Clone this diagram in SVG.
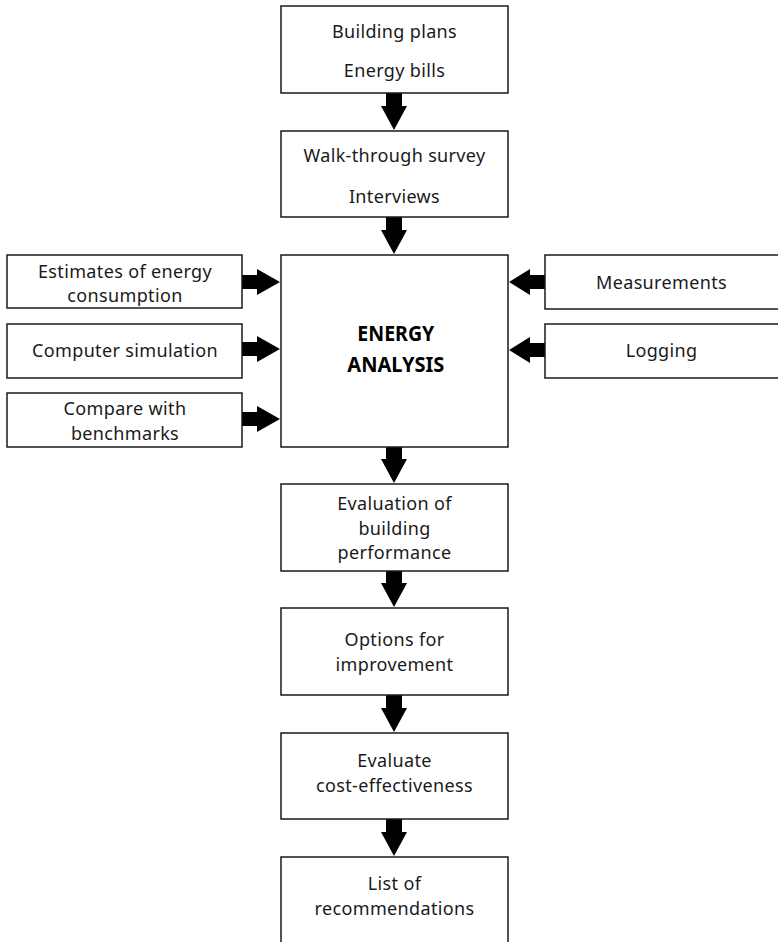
<svg xmlns="http://www.w3.org/2000/svg" width="778" height="942" viewBox="0 0 778 942">
<style>
.box{fill:#fff;stroke:#1a1a1a;stroke-width:1.5}
.t{font-family:"Noto Sans","Open Sans",sans-serif;font-size:18px;letter-spacing:0.35px;fill:#1a1a1a;text-anchor:middle}
.b{font-weight:bold;font-size:22px;letter-spacing:0;fill:#000}
.arr{fill:#000}
</style>
<rect width="778" height="942" fill="#fff"/>
<g id="connectors">
<polygon class="arr" points="386,93 402,93 402,106 407,106 394,130 381,106 386,106"/>
<polygon class="arr" points="386,217 402,217 402,230 407,230 394,254 381,230 386,230"/>
<polygon class="arr" points="386,447 402,447 402,459 407,459 394,483 381,459 386,459"/>
<polygon class="arr" points="386,571 402,571 402,583 407,583 394,607 381,583 386,583"/>
<polygon class="arr" points="386,695 402,695 402,708 407,708 394,732 381,708 386,708"/>
<polygon class="arr" points="386,819 402,819 402,832 407,832 394,856 381,832 386,832"/>
<polygon class="arr" points="242,275 257,275 257,269 280,282 257,295 257,289 242,289"/>
<polygon class="arr" points="242,342 257,342 257,336 280,349 257,362 257,356 242,356"/>
<polygon class="arr" points="242,412 257,412 257,406 280,419 257,432 257,426 242,426"/>
<polygon class="arr" points="545,275 530,275 530,269 509,282 530,295 530,289 545,289"/>
<polygon class="arr" points="545,343 530,343 530,337 509,350 530,363 530,357 545,357"/>
</g>
<g id="n-plans">
<rect class="box" x="281" y="6" width="227" height="87"/>
<text class="t" x="394.5" y="38">Building plans</text>
<text class="t" x="394.5" y="77">Energy bills</text>
</g>
<g id="n-survey">
<rect class="box" x="281" y="131" width="227" height="86"/>
<text class="t" x="394.5" y="162">Walk-through survey</text>
<text class="t" x="394.5" y="203">Interviews</text>
</g>
<g id="n-analysis">
<rect class="box" x="281" y="255" width="227" height="192"/>
<text class="t b" x="395.8" y="341" textLength="77" lengthAdjust="spacingAndGlyphs">ENERGY</text>
<text class="t b" x="395.8" y="372" textLength="97" lengthAdjust="spacingAndGlyphs">ANALYSIS</text>
</g>
<g id="n-estimates">
<rect class="box" x="7" y="255" width="235" height="53"/>
<text class="t" x="125" y="277.5">Estimates of energy</text>
<text class="t" x="125" y="302">consumption</text>
</g>
<g id="n-simulation">
<rect class="box" x="7" y="324" width="235" height="54"/>
<text class="t" x="125" y="357">Computer simulation</text>
</g>
<g id="n-benchmarks">
<rect class="box" x="7" y="393" width="235" height="54"/>
<text class="t" x="125" y="415">Compare with</text>
<text class="t" x="125" y="439.5">benchmarks</text>
</g>
<g id="n-measurements">
<rect class="box" x="545" y="255" width="240" height="54"/>
<text class="t" x="661.5" y="289">Measurements</text>
</g>
<g id="n-logging">
<rect class="box" x="545" y="324" width="240" height="54"/>
<text class="t" x="661.5" y="357">Logging</text>
</g>
<g id="n-evaluation">
<rect class="box" x="281" y="484" width="227" height="87"/>
<text class="t" x="394.5" y="510">Evaluation of</text>
<text class="t" x="394.5" y="534.5">building</text>
<text class="t" x="394.5" y="559">performance</text>
</g>
<g id="n-options">
<rect class="box" x="281" y="608" width="227" height="87"/>
<text class="t" x="394.5" y="646">Options for</text>
<text class="t" x="394.5" y="670.5">improvement</text>
</g>
<g id="n-cost">
<rect class="box" x="281" y="733" width="227" height="86"/>
<text class="t" x="394.5" y="767">Evaluate</text>
<text class="t" x="394.5" y="791.5">cost-effectiveness</text>
</g>
<g id="n-recommendations">
<rect class="box" x="281" y="857" width="227" height="100"/>
<text class="t" x="394.5" y="890">List of</text>
<text class="t" x="394.5" y="914.5">recommendations</text>
</g>
</svg>
